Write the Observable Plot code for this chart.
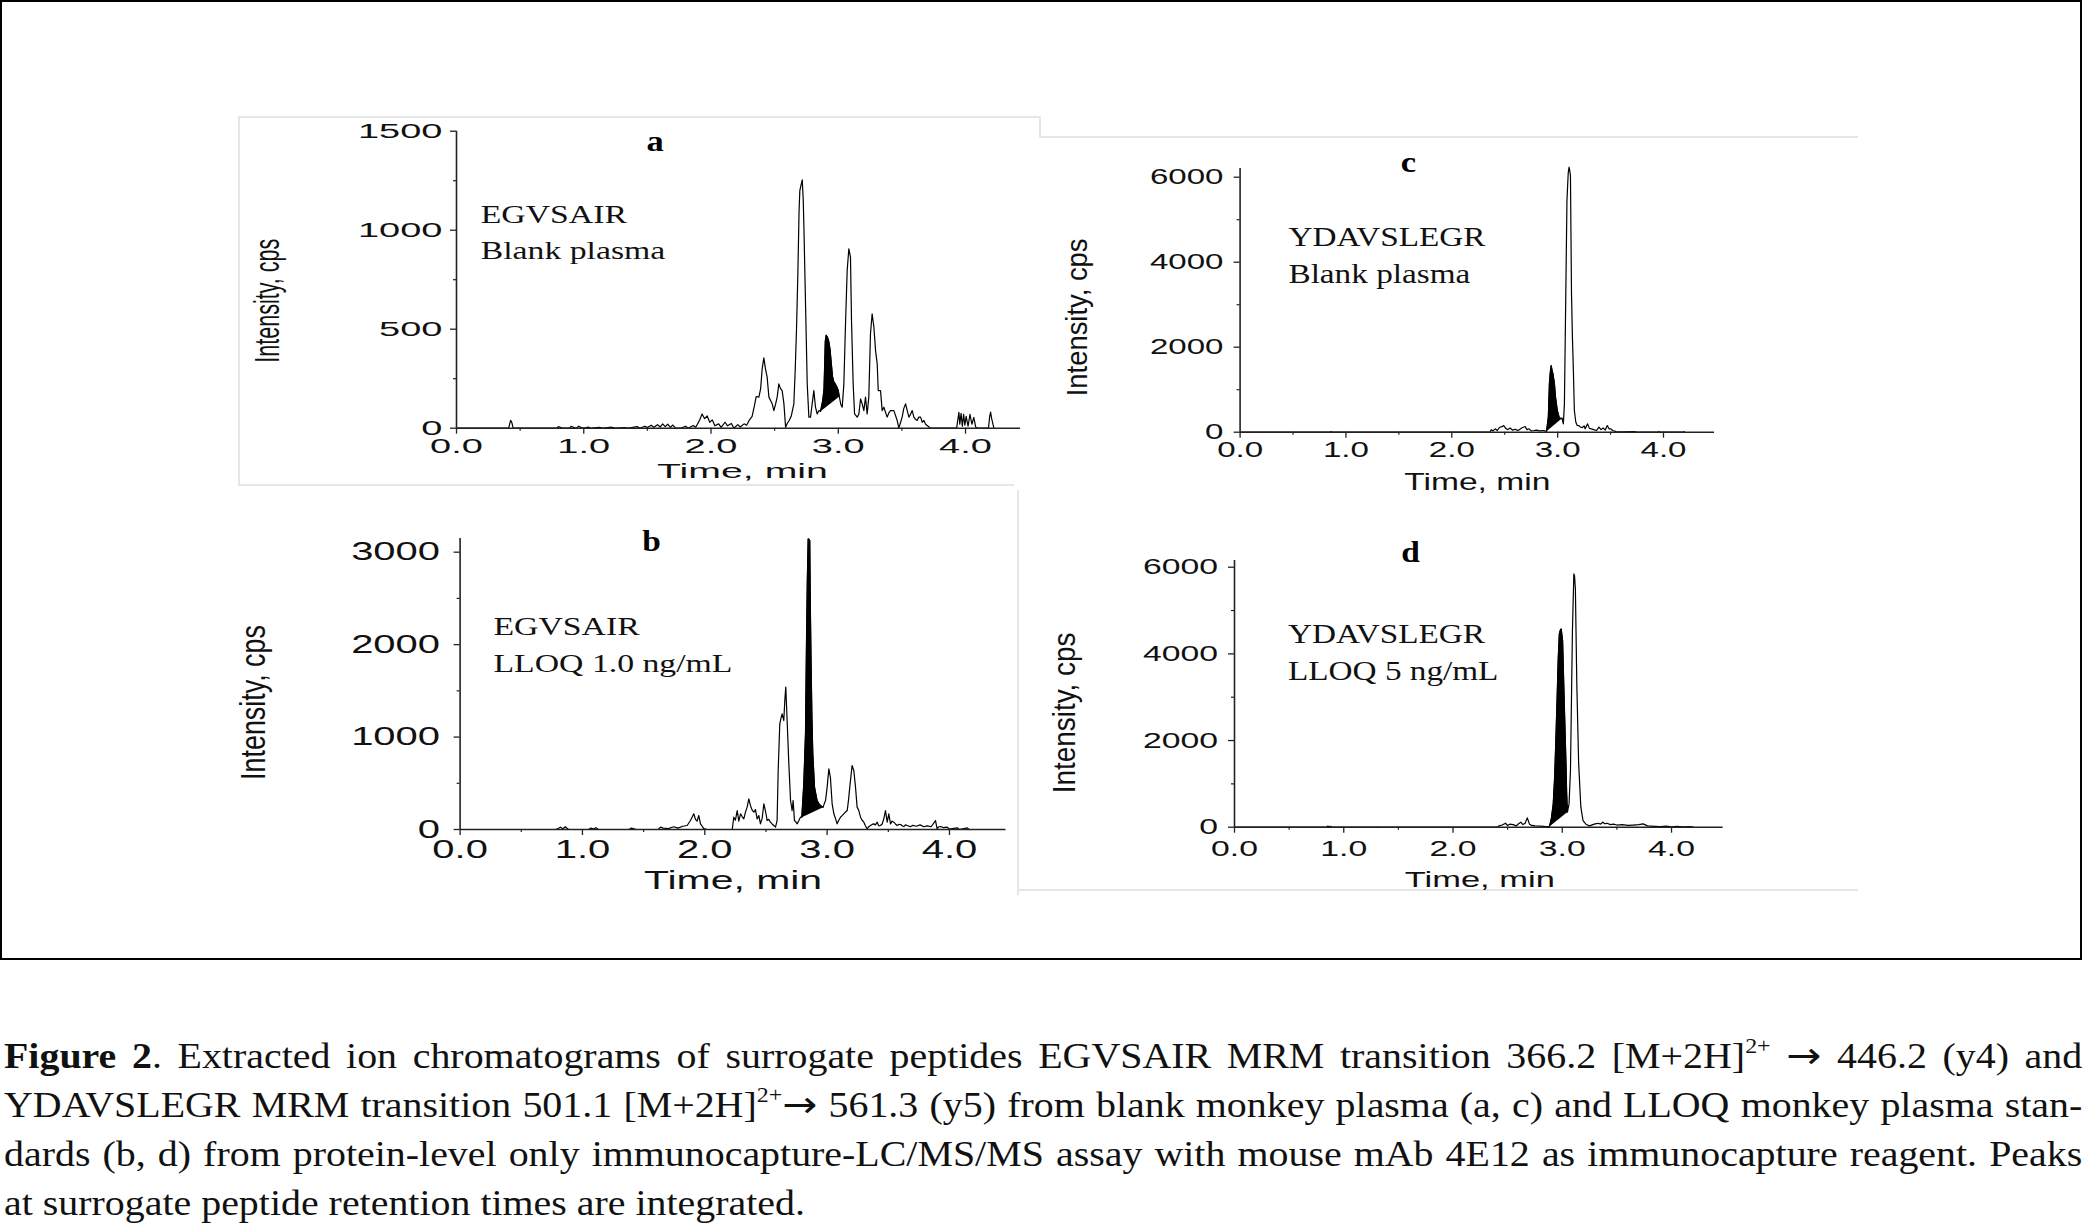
<!DOCTYPE html>
<html><head><meta charset="utf-8">
<script src="https://cdn.jsdelivr.net/npm/d3@7"></script>
<script src="https://cdn.jsdelivr.net/npm/@observablehq/plot@0.6"></script>
<style>
html,body{margin:0;padding:0;background:#fff;}
body{width:2093px;height:1230px;position:relative;overflow:hidden;}
#frame{position:absolute;left:0;top:0;width:2078px;height:956px;border:2px solid #000;}
.panel{position:absolute;}
.edge{position:absolute;background:#e6e6e6;}
#caption{position:absolute;left:4px;top:1032px;width:1823px;transform:scaleX(1.14);transform-origin:0 0;font-family:"Liberation Serif","Times New Roman",serif;font-size:35px;line-height:49px;color:#111;}
#caption div{text-align:justify;text-align-last:justify;white-space:nowrap;}
#caption div.last{text-align-last:left;}
#caption sup{font-size:0.6em;line-height:0;vertical-align:0.7em;}
#caption .arr{font-family:"DejaVu Sans",sans-serif;font-size:1.05em;line-height:0;}
</style></head><body>
<div id="frame"></div>
<div class="edge" style="left:238px;top:116px;width:802px;height:2px;"></div>
<div class="edge" style="left:238px;top:116px;width:2px;height:369px;"></div>
<div class="edge" style="left:238px;top:484px;width:776px;height:2px;"></div>
<div class="edge" style="left:1039px;top:116px;width:2px;height:22px;"></div>
<div class="edge" style="left:1040px;top:136px;width:818px;height:2px;"></div>
<div class="edge" style="left:1017px;top:490px;width:2px;height:405px;"></div>
<div class="edge" style="left:1017px;top:889px;width:841px;height:2px;"></div>
<div id="charts"></div>
<div id="caption">
<div><b>Figure 2</b>. Extracted ion chromatograms of surrogate peptides EGVSAIR MRM transition 366.2 [M+2H]<sup>2+</sup> <span class="arr">→</span> 446.2 (y4) and</div>
<div>YDAVSLEGR MRM transition 501.1 [M+2H]<sup>2+</sup><span class="arr">→</span> 561.3 (y5) from blank monkey plasma (a, c) and LLOQ monkey plasma stan-</div>
<div>dards (b, d) from protein-level only immunocapture-LC/MS/MS assay with mouse mAb 4E12 as immunocapture reagent. Peaks</div>
<div class="last">at surrogate peptide retention times are integrated.</div>
</div>
<script>
// ---------- data ----------
const timeA = [0,0.41,0.425,0.435,0.445,0.79,0.80,0.82,0.84,0.89,0.90,0.92,0.94,0.96,0.98,1.00,1.04,1.06,1.12,1.15,1.22,1.25,1.32,1.35,1.42,1.44,1.48,1.50,1.53,1.55,1.58,1.60,1.62,1.64,1.66,1.68,1.70,1.72,1.76,1.80,1.82,1.86,1.88,1.91,1.93,1.95,1.97,1.99,2.01,2.03,2.06,2.08,2.11,2.13,2.16,2.18,2.21,2.23,2.26,2.28,2.30,2.323,2.34,2.355,2.376,2.39,2.402,2.415,2.428,2.441,2.455,2.468,2.481,2.494,2.507,2.52,2.533,2.546,2.559,2.573,2.586,2.60,2.615,2.63,2.651,2.662,2.672,2.683,2.692,2.698,2.708,2.717,2.725,2.73,2.743,2.756,2.769,2.782,2.795,2.808,2.821,2.834,2.848,2.861,2.868,2.878,2.888,2.893,2.898,2.905,2.915,2.925,2.935,2.945,2.955,2.965,2.975,2.988,3.0,3.008,3.02,3.031,3.044,3.057,3.07,3.083,3.096,3.104,3.117,3.128,3.149,3.162,3.175,3.188,3.201,3.214,3.227,3.24,3.253,3.266,3.28,3.293,3.306,3.314,3.332,3.345,3.358,3.384,3.40,3.411,3.437,3.463,3.476,3.49,3.502,3.515,3.529,3.542,3.555,3.568,3.581,3.594,3.607,3.62,3.633,3.647,3.66,3.673,3.686,3.699,3.725,3.93,3.948,3.955,3.965,3.975,3.985,3.995,4.005,4.02,4.035,4.05,4.065,4.08,4.10,4.18,4.19,4.197,4.205,4.223];
const intA = [0,0,40,28,0,0,8,3,0,0,9,4,0,10,3,0,5,0,4,0,5,0,3,0,8,0,10,3,15,5,18,6,22,8,20,4,16,2,0,10,0,14,5,40,72,48,62,30,42,12,22,4,30,12,24,0,18,6,22,15,40,60,110,160,157,200,300,355,300,258,157,140,123,89,120,157,224,200,190,123,5,25,40,60,123,300,502,796,1100,1200,1230,1254,1150,1015,620,224,56,56,123,190,106,72,89,85,110,140,200,320,440,470,460,440,400,330,260,235,225,210,190,160,120,106,224,527,796,906,864,544,224,72,56,72,148,123,89,157,72,157,476,577,510,392,325,190,190,89,106,56,80,89,89,39,0,30,56,100,123,89,56,70,89,56,45,39,56,56,30,39,20,14,0,0,80,20,75,10,70,15,60,10,70,20,55,5,0,0,60,81,50,0];
const peakA = [2.861, 3.008];

const timeB = [0,0.78,0.80,0.82,0.84,0.86,0.88,0.90,1.05,1.07,1.09,1.11,1.13,1.38,1.40,1.42,1.44,1.62,1.638,1.66,1.70,1.747,1.78,1.82,1.856,1.883,1.910,1.924,1.937,1.951,1.965,1.992,2.02,2.224,2.237,2.25,2.265,2.278,2.292,2.305,2.319,2.333,2.346,2.360,2.373,2.387,2.401,2.414,2.428,2.442,2.455,2.469,2.483,2.496,2.510,2.523,2.537,2.55,2.564,2.578,2.591,2.600,2.613,2.622,2.632,2.646,2.654,2.662,2.673,2.687,2.701,2.714,2.722,2.733,2.745,2.755,2.77,2.782,2.793,2.809,2.823,2.831,2.838,2.845,2.852,2.858,2.863,2.869,2.876,2.883,2.897,2.908,2.918,2.932,2.946,2.957,2.967,2.977,2.987,3.000,3.014,3.027,3.041,3.055,3.068,3.082,3.095,3.109,3.122,3.136,3.150,3.164,3.175,3.185,3.204,3.218,3.232,3.245,3.259,3.273,3.286,3.300,3.313,3.327,3.340,3.354,3.368,3.381,3.395,3.409,3.422,3.436,3.45,3.463,3.477,3.491,3.504,3.518,3.531,3.545,3.558,3.572,3.586,3.600,3.613,3.627,3.64,3.654,3.68,3.70,3.73,3.76,3.79,3.817,3.85,3.886,3.899,3.913,3.927,3.95,3.981,4.00,4.063,4.08,4.145,4.16];
const intB = [0,0,10,25,8,30,5,0,0,15,5,20,0,0,15,8,0,0,25,15,10,30,15,35,43,97,170,110,90,151,60,10,0,0,133,100,205,90,170,140,115,190,242,332,260,210,187,215,115,150,61,120,278,200,97,110,79,60,43,25,97,638,1143,1200,1251,1179,1396,1540,1179,710,314,205,314,97,80,61,100,133,133,494,1035,2009,2700,3145,3140,3127,2400,1792,1200,819,458,380,314,280,260,250,242,280,314,458,656,560,278,170,120,61,100,133,150,170,190,205,320,458,692,638,458,242,205,133,100,79,40,7,30,43,55,61,50,79,40,43,60,115,205,80,170,61,90,79,60,43,55,54,40,32,50,43,30,45,35,50,30,40,30,97,7,30,32,20,25,5,18,0,18,0];
const peakB = [2.793, 2.967];

const timeC = [0,0.85,0.86,0.88,2.36,2.372,2.39,2.41,2.43,2.45,2.473,2.490,2.51,2.53,2.55,2.574,2.60,2.62,2.64,2.66,2.693,2.71,2.73,2.75,2.777,2.80,2.83,2.86,2.878,2.895,2.912,2.922,2.930,2.939,2.948,2.956,2.970,2.980,2.997,3.014,3.030,3.041,3.054,3.064,3.074,3.088,3.100,3.108,3.115,3.121,3.131,3.140,3.148,3.158,3.172,3.185,3.199,3.215,3.233,3.25,3.26,3.283,3.30,3.317,3.34,3.368,3.39,3.41,3.43,3.45,3.469,3.485,3.503,3.52,3.553,3.60,3.722,3.75,3.95,3.958,3.965,4.19,4.194,4.2];
const intC = [0,0,15,0,0,60,30,80,40,110,130,157,90,60,100,50,70,40,60,100,133,60,80,30,40,50,30,40,30,20,353,1137,1400,1569,1450,1373,1137,824,510,353,320,330,196,667,2627,5451,6100,6235,6150,6039,3255,2200,1529,510,235,160,157,120,110,150,80,196,90,80,60,40,120,60,100,50,157,80,78,40,15,10,15,0,0,20,0,0,18,0];
const peakC = [2.895, 3.041];

const timeD = [0,0.84,0.855,0.865,0.88,0.89,1.30,1.31,1.32,2.40,2.42,2.45,2.48,2.50,2.52,2.55,2.58,2.60,2.62,2.64,2.66,2.68,2.70,2.72,2.75,2.80,2.85,2.882,2.900,2.917,2.930,2.941,2.952,2.963,2.973,2.982,2.990,3.003,3.017,3.034,3.040,3.047,3.062,3.075,3.093,3.106,3.112,3.120,3.133,3.150,3.170,3.190,3.22,3.25,3.28,3.30,3.33,3.35,3.37,3.39,3.41,3.44,3.47,3.50,3.55,3.60,3.65,3.70,3.74,3.78,3.85,3.90,3.95,4.0,4.05,4.1,4.17,4.2];
const intD = [0,0,25,10,20,0,0,10,0,0,30,50,92,40,70,60,30,80,115,60,90,215,70,40,30,25,15,15,200,538,1154,2000,2923,3900,4462,4550,4577,4308,3000,1462,800,350,538,1308,4538,5846,5800,5500,3308,1462,462,154,62,30,60,77,90,70,115,80,90,60,70,50,60,40,50,60,77,30,20,15,25,10,20,10,15,0];
const peakD = [2.882, 3.047];

const xMajorTicks = [0, 1, 2, 3, 4];
const xMinorTicks = [0.5, 1.5, 2.5, 3.5];
const panelLetters = ["a", "b", "c", "d"];
const panelNotes = [["EGVSAIR", "Blank plasma"], ["EGVSAIR", "LLOQ 1.0 ng/mL"], ["YDAVSLEGR", "Blank plasma"], ["YDAVSLEGR", "LLOQ 5 ng/mL"]];
const xTitle = "Time, min";
const yTitle = "Intensity, cps";

// ---------- layout (pixel geometry + styles) ----------
const panels = [
  {time: timeA, inten: intA, peak: peakA, k: 0,
   x0: 456, x1: 1020, xmax: 4.432, y0: 427.7, yTop: 130.7, ymax: 1500,
   yMajor: [0, 500, 1000, 1500], yMinor: [250, 750, 1250],
   tick: {font: 20, sx: 1.9, xPad: 4.5, yPad: 8},
   xT: {font: 21, sx: 1.87, dx: 4, dy: 50},
   yT: {font: 21.5, sx: 1.65, dx: -189, dy: 21},
   letter: {x: 1.56, y: 1402, font: 30, sx: 1.15},
   note: {x: 0.19, y1: 1034, y2: 857, font: 25, sx: 1.35}},
  {time: timeB, inten: intB, peak: peakB, k: 1,
   x0: 459.6, x1: 1005.5, xmax: 4.462, y0: 829, yTop: 538, ymax: 3148,
   yMajor: [0, 1000, 2000, 3000], yMinor: [500, 1500, 2500],
   tick: {font: 25, sx: 1.6, xPad: 5, yPad: 14},
   xT: {font: 25.6, sx: 1.6, dx: 0, dy: 59},
   yT: {font: 26.9, sx: 1.33, dx: -207, dy: 18.5},
   letter: {x: 1.565, y: 3018, font: 29, sx: 1.15},
   note: {x: 0.273, y1: 2099, y2: 1699, font: 25, sx: 1.35}},
  {time: timeC, inten: intC, peak: peakC, k: 2,
   x0: 1239.6, x1: 1714, xmax: 4.482, y0: 431.7, yTop: 168, ymax: 6205,
   yMajor: [0, 2000, 4000, 6000], yMinor: [1000, 3000, 5000],
   tick: {font: 22.5, sx: 1.47, xPad: 2.5, yPad: 10.6},
   xT: {font: 23, sx: 1.46, dx: 0, dy: 58},
   yT: {font: 27.4, sx: 1.07, dx: -162, dy: 17},
   letter: {x: 1.59, y: 6111, font: 30, sx: 1.15},
   note: {x: 0.457, y1: 4393, y2: 3522, font: 27.7, sx: 1.2}},
  {time: timeD, inten: intD, peak: peakD, k: 3,
   x0: 1234, x1: 1722.6, xmax: 4.472, y0: 826.7, yTop: 560, ymax: 6155,
   yMajor: [0, 2000, 4000, 6000], yMinor: [1000, 3000, 5000],
   tick: {font: 22.5, sx: 1.5, xPad: 7, yPad: 10.4},
   xT: {font: 23, sx: 1.5, dx: 1, dy: 60},
   yT: {font: 27.9, sx: 1.13, dx: -170, dy: 19},
   letter: {x: 1.61, y: 6109, font: 29, sx: 1.15},
   note: {x: 0.49, y1: 4240, y2: 3386, font: 27.7, sx: 1.2}}
];

const sans = "'Liberation Sans', Arial, sans-serif";
const serif = "'Liberation Serif', 'Times New Roman', serif";

function stretchText(svg, label, sx, rotated) {
  svg.querySelectorAll(`g[aria-label="${label}"] text, text[aria-label="${label}"]`).forEach(t => {
    let tr = t.getAttribute("transform");
    if (!tr) {
      const x = +t.getAttribute("x") || 0, y = +t.getAttribute("y") || 0;
      tr = `translate(${x},${y})`;
      t.removeAttribute("x");
    }
    t.setAttribute("transform", tr + (rotated ? ` scale(1,${sx})` : ` scale(${sx},1)`));
  });
}

const host = document.getElementById("charts");
for (const p of panels) {
  const data = p.time.map((t, i) => ({t, v: p.inten[i]}));
  const mL = 230, mR = 20, mT = 40, mB = 80;
  const left = Math.floor(p.x0 - mL), top = Math.floor(p.yTop - mT);
  const marginLeft = p.x0 - left, marginTop = p.yTop - top;
  const width = Math.ceil(p.x1 - left + mR);
  const height = Math.ceil(p.y0 - top + mB);
  const marginRight = width - (p.x1 - left);
  const marginBottom = height - (p.y0 - top);
  const [n1, n2] = panelNotes[p.k];
  const svg = Plot.plot({
    width, height, marginLeft, marginRight, marginTop, marginBottom,
    x: {domain: [0, p.xmax]},
    y: {domain: [0, p.ymax]},
    style: {background: "transparent", overflow: "visible", maxWidth: "none", fontFamily: sans, fontSize: p.tick.font + "px", color: "#111"},
    marks: [
      Plot.line(data, {x: "t", y: "v", stroke: "#000", strokeWidth: 1.2}),
      Plot.line(data, {filter: d => d.t >= p.peak[0] && d.t <= p.peak[1], x: "t", y: "v", fill: "#000", stroke: "#000", strokeWidth: 1}),
      Plot.ruleY([0], {stroke: "#222", strokeWidth: 1.6}),
      Plot.ruleX([0], {stroke: "#222", strokeWidth: 1.6}),
      Plot.axisX({ticks: xMajorTicks, tickSize: 6, tickPadding: p.tick.xPad, tickFormat: d3.format(".1f"), label: null, stroke: "#222", strokeWidth: 1.3, fill: "#111"}),
      Plot.axisX({ticks: xMinorTicks, tickSize: 3, tickFormat: () => "", label: null, stroke: "#222", strokeWidth: 1.2}),
      Plot.axisY({ticks: p.yMajor, tickSize: 6, tickPadding: p.tick.yPad, tickFormat: d3.format("d"), label: null, stroke: "#222", strokeWidth: 1.3, fill: "#111"}),
      Plot.axisY({ticks: p.yMinor, tickSize: 3, tickFormat: () => "", label: null, stroke: "#222", strokeWidth: 1.2}),
      Plot.text([xTitle], {frameAnchor: "bottom", textAnchor: "middle", lineAnchor: "bottom", dx: p.xT.dx, dy: p.xT.dy, fontSize: p.xT.font, fontFamily: sans, fill: "#111", ariaLabel: () => "xtitle"}),
      Plot.text([yTitle], {frameAnchor: "left", textAnchor: "middle", lineAnchor: "middle", rotate: -90, dx: p.yT.dx, dy: p.yT.dy, fontSize: p.yT.font, fontFamily: sans, fill: "#111", ariaLabel: () => "ytitle"}),
      Plot.text([panelLetters[p.k]], {x: () => p.letter.x, y: () => p.letter.y, lineAnchor: "bottom", fontSize: p.letter.font, fontWeight: "bold", fontFamily: serif, fill: "#000", ariaLabel: () => "letter"}),
      Plot.text([n1], {x: () => p.note.x, y: () => p.note.y1, textAnchor: "start", lineAnchor: "bottom", fontSize: p.note.font, fontFamily: serif, fill: "#111", ariaLabel: () => "note"}),
      Plot.text([n2], {x: () => p.note.x, y: () => p.note.y2, textAnchor: "start", lineAnchor: "bottom", fontSize: p.note.font, fontFamily: serif, fill: "#111", ariaLabel: () => "note"})
    ]
  });
  stretchText(svg, "x-axis tick label", p.tick.sx, false);
  stretchText(svg, "y-axis tick label", p.tick.sx, false);
  stretchText(svg, "xtitle", p.xT.sx, false);
  stretchText(svg, "ytitle", p.yT.sx, true);
  stretchText(svg, "letter", p.letter.sx, false);
  stretchText(svg, "note", p.note.sx, false);
  const div = document.createElement("div");
  div.className = "panel";
  div.style.left = left + "px";
  div.style.top = top + "px";
  div.appendChild(svg);
  host.appendChild(div);
}
</script>
</body></html>
